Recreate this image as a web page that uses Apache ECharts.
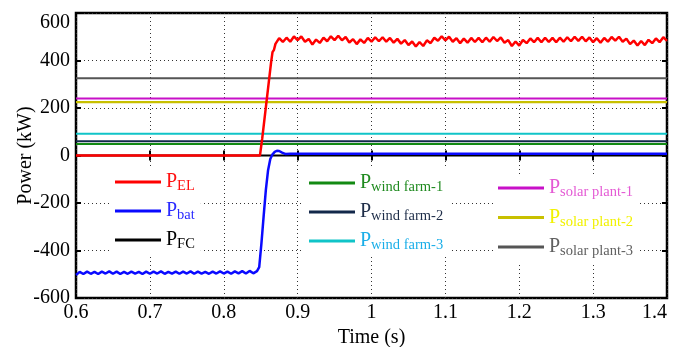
<!DOCTYPE html>
<html>
<head>
<meta charset="utf-8">
<script src="https://cdn.jsdelivr.net/npm/echarts@6/dist/echarts.min.js"></script>
<style>html,body{margin:0;padding:0;background:#fff;}#c{width:678px;height:347px;}</style>
</head>
<body>
<div id="c"></div>
<script>
// ---- data ----
const xTicks = [0.6, 0.7, 0.8, 0.9, 1, 1.1, 1.2, 1.3, 1.4];
const yTicks = [-600, -400, -200, 0, 200, 400, 600];

// P_EL : time and values
const tEL = [0.6, 0.849, 0.852, 0.855, 0.858, 0.861, 0.864, 0.866, 0.868, 0.87,
  0.875, 0.88, 0.885, 0.89, 0.895, 0.9, 0.905, 0.91, 0.915, 0.92, 0.925, 0.93, 0.935, 0.94, 0.945, 0.95, 0.955, 0.96, 0.965, 0.97, 0.975, 0.98, 0.985, 0.99, 0.995,
  1.0, 1.005, 1.01, 1.015, 1.02, 1.025, 1.03, 1.035, 1.04, 1.045, 1.05, 1.055, 1.06, 1.065, 1.07, 1.075, 1.08, 1.085, 1.09, 1.095,
  1.1, 1.105, 1.11, 1.115, 1.12, 1.125, 1.13, 1.135, 1.14, 1.145, 1.15, 1.155, 1.16, 1.165, 1.17, 1.175, 1.18, 1.185, 1.19, 1.195,
  1.2, 1.205, 1.21, 1.215, 1.22, 1.225, 1.23, 1.235, 1.24, 1.245, 1.25, 1.255, 1.26, 1.265, 1.27, 1.275, 1.28, 1.285, 1.29, 1.295,
  1.3, 1.305, 1.31, 1.315, 1.32, 1.325, 1.33, 1.335, 1.34, 1.345, 1.35, 1.355, 1.36, 1.365, 1.37, 1.375, 1.38, 1.385, 1.39, 1.395, 1.4];
const vEL = [0, 0, 70, 150, 230, 310, 390, 435, 445, 470,
  494, 478, 496, 479, 501, 486, 501, 479, 491, 467, 488, 474, 496, 481, 502, 486, 504, 485, 499, 476, 490, 469, 489, 474, 495,
  479, 498, 481, 498, 479, 495, 475, 491, 471, 486, 465, 480, 459, 478, 461, 485, 473, 496, 483, 502,
  485, 500, 479, 494, 473, 492, 475, 495, 478, 495, 477, 496, 479, 499, 482, 497, 475, 486, 461, 480,
  463, 486, 473, 493, 477, 495, 477, 496, 478, 495, 477, 496, 479, 498, 481, 500, 483, 500, 481, 497,
  477, 494, 475, 495, 479, 499, 484, 500, 479, 492, 469, 484, 463, 482, 465, 487, 473, 493, 477, 498, 483];

// P_bat : time and values
const tBat = [0.6, 0.605, 0.61, 0.615, 0.62, 0.625, 0.63, 0.635, 0.64, 0.645, 0.65, 0.655, 0.66, 0.665, 0.67, 0.675, 0.68, 0.685, 0.69, 0.695,
  0.7, 0.705, 0.71, 0.715, 0.72, 0.725, 0.73, 0.735, 0.74, 0.745, 0.75, 0.755, 0.76, 0.765, 0.77, 0.775, 0.78, 0.785, 0.79, 0.795,
  0.8, 0.805, 0.81, 0.815, 0.82, 0.825, 0.83, 0.835, 0.84, 0.845,
  0.848, 0.851, 0.854, 0.857, 0.86, 0.863, 0.866, 0.869, 0.872, 0.875, 0.879, 0.884, 0.89, 1.4];
const vBat = [-503, -490, -499, -489, -498, -490, -499, -489, -497, -488, -498, -489, -499, -490, -498, -489, -497, -490, -499, -489,
  -498, -489, -497, -488, -498, -490, -497, -489, -498, -489, -497, -488, -498, -489, -497, -490, -498, -489, -497, -488,
  -497, -489, -498, -488, -496, -487, -497, -486, -496, -487,
  -470, -370, -255, -145, -62, -15, 5, 15, 20, 19, 12, 6, 7, 7];

// constant series
const tConst = [0.6, 1.4];
const pFC = 0;
const pWind1 = 48;
const pWind2 = 60;
const pWind3 = 92;
const pSolar1 = 240;
const pSolar2 = 225;
const pSolar3 = 325;

// names / legend labels
const names = ['EL', 'bat', 'FC', 'wind farm-1', 'wind farm-2', 'wind farm-3', 'solar plant-1', 'solar plant-2', 'solar plant-3'];
const lineColors = ['#ff0000', '#0a0aff', '#000000', '#138a13', '#13284a', '#10c4c8', '#c810c8', '#c8c000', '#555555'];
const textColors = ['#ff1010', '#2a2aff', '#000000', '#1f8a1f', '#1e2d48', '#1aaee8', '#e45ad4', '#f2f200', '#606060'];

// ---- build ----
function pairs(t, v) { return t.map((x, i) => [x, v[i]]); }
function constPairs(v) { return tConst.map(x => [x, v]); }

const FONT = 'Liberation Serif';
const rich = {};
names.forEach((n, i) => {
  rich['p' + i] = { fontFamily: FONT, fontSize: 20, lineHeight: 24, color: textColors[i] };
  rich['s' + i] = { fontFamily: FONT, fontSize: 14.5, lineHeight: 14, verticalAlign: 'bottom', color: textColors[i] };
});
const fmt = name => { const i = names.indexOf(name); return '{p' + i + '|P}{s' + i + '|' + name + '}'; };

function mkLegend(list, left, top, gap) {
  return {
    data: list, orient: 'vertical', left: left, top: top,
    icon: 'rect', itemWidth: 46, itemHeight: 3, itemGap: gap,
    padding: [4, 6, 4, 5], backgroundColor: '#ffffff',
    selectedMode: false, formatter: fmt,
    textStyle: { rich: rich }
  };
}

const seriesData = [
  pairs(tEL, vEL), pairs(tBat, vBat), constPairs(pFC),
  constPairs(pWind1), constPairs(pWind2), constPairs(pWind3),
  constPairs(pSolar1), constPairs(pSolar2), constPairs(pSolar3)
];
const widths = [2.5, 2.5, 2.2, 2, 2, 2, 2, 2.2, 2];
const zs = [9, 8, 7, 3, 3, 3, 3, 3, 3];

const series = names.map((n, i) => ({
  name: n, type: 'line', data: seriesData[i], symbol: 'none', z: zs[i],
  color: lineColors[i], lineStyle: { color: lineColors[i], width: widths[i] },
  animation: false, clip: true
}));

const tickStyle = { show: true, inside: true, length: 5, lineStyle: { color: '#000', width: 2 } };
const splitStyle = { show: true, lineStyle: { color: '#333', width: 1, type: [1, 3] } };

const option = {
  animation: false,
  backgroundColor: '#fff',
  grid: { left: 76, right: 11, top: 13, bottom: 49, containLabel: false, outerBoundsMode: 'none',
    show: true, borderColor: '#000', borderWidth: 2.5, backgroundColor: 'transparent' },
  legend: [
    mkLegend(['EL', 'bat', 'FC'], 110, 168, 7),
    mkLegend(['wind farm-1', 'wind farm-2', 'wind farm-3'], 304, 169, 7),
    mkLegend(['solar plant-1', 'solar plant-2', 'solar plant-3'], 493, 174, 7.5)
  ],
  xAxis: [{
    type: 'value', min: xTicks[0], max: xTicks[xTicks.length - 1], interval: 0.1,
    name: 'Time (s)', nameLocation: 'middle', nameGap: 30, nameMoveOverlap: false,
    nameTextStyle: { fontFamily: FONT, fontSize: 20, color: '#000' },
    axisLine: { show: false }, axisTick: tickStyle, splitLine: splitStyle,
    axisLabel: { fontFamily: FONT, fontSize: 20, color: '#000', margin: 5, alignMaxLabel: 'right',
      formatter: v => String(Math.round(v * 10) / 10) }
  }, {
    type: 'value', position: 'top', min: xTicks[0], max: xTicks[xTicks.length - 1], interval: 0.1,
    axisLine: { show: false }, axisTick: tickStyle, splitLine: { show: false }, axisLabel: { show: false }
  }],
  yAxis: [{
    type: 'value', min: yTicks[0], max: yTicks[yTicks.length - 1], interval: 200,
    name: 'Power (kW)', nameLocation: 'middle', nameGap: 40, nameRotate: 90, nameMoveOverlap: false,
    nameTextStyle: { fontFamily: FONT, fontSize: 20, color: '#000' },
    axisLine: { show: false }, axisTick: tickStyle, splitLine: splitStyle,
    axisLabel: { fontFamily: FONT, fontSize: 20, color: '#000', margin: 6, verticalAlignMaxLabel: 'top' }
  }, {
    type: 'value', position: 'right', min: yTicks[0], max: yTicks[yTicks.length - 1], interval: 200,
    axisLine: { show: false }, axisTick: tickStyle, splitLine: { show: false }, axisLabel: { show: false }
  }],
  series: series
};

const chart = echarts.init(document.getElementById('c'), null, { renderer: 'canvas' });
chart.setOption(option);
</script>
</body>
</html>
